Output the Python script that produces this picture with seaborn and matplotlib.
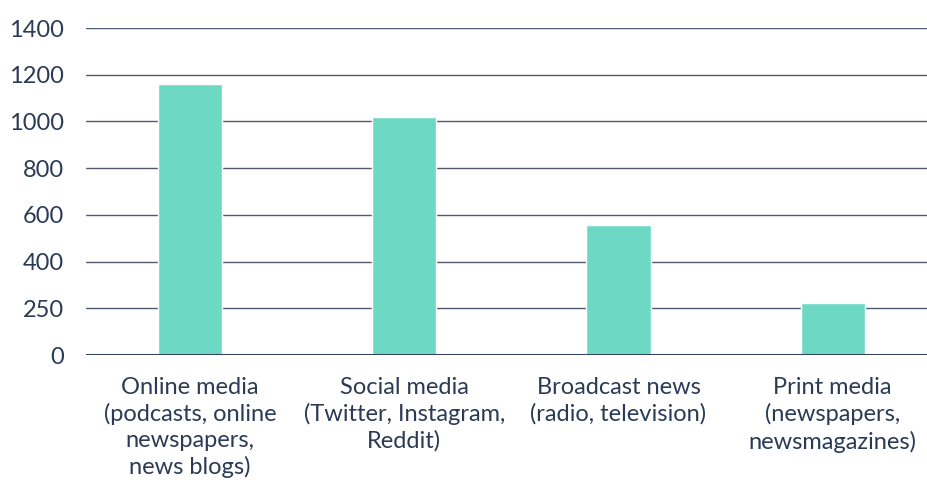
import matplotlib
matplotlib.use("Agg")
import matplotlib.pyplot as plt
import seaborn as sns
import pandas as pd

categories = [
    "Online media\n(podcasts, online\nnewspapers,\nnews blogs)",
    "Social media\n(Twitter, Instagram,\nReddit)",
    "Broadcast news\n(radio, television)",
    "Print media\n(newspapers,\nnewsmagazines)",
]
counts = [1160, 1020, 555, 222]
y_ticks = [0, 200, 400, 600, 800, 1000, 1200, 1400]
y_tick_labels = ["0", "250", "400", "600", "800", "1000", "1200", "1400"]

sns.set_theme(style="white")
plt.rcParams["font.family"] = ["Lato", "DejaVu Sans"]

text_color = "#2b3a55"
grid_color = "#3c4863"
bar_color = "#6dd9c5"

df = pd.DataFrame({"category": categories, "count": counts})

fig = plt.figure(figsize=(9.27, 4.83), dpi=100)
ax = fig.add_axes([0.0928, 0.265, 0.9072, 0.677])

sns.barplot(data=df, x="category", y="count", color=bar_color,
            width=0.3, saturation=1, ax=ax, zorder=3)

ax.set_xlim(-0.486, 3.44)
ax.set_ylim(0, 1400)
ax.set_yticks(y_ticks)
ax.set_yticklabels(y_tick_labels)
for y in y_ticks[1:]:
    ax.axhline(y, color=grid_color, lw=1.0, alpha=0.9, zorder=1)
ax.axhline(0, color="#34415c", lw=2.2, zorder=4)

for s in ax.spines.values():
    s.set_visible(False)
ax.tick_params(axis="y", length=0, pad=16, labelsize=17, labelcolor=text_color)
ax.tick_params(axis="x", length=0, pad=16, labelsize=17, labelcolor=text_color)
for lbl in ax.get_xticklabels():
    lbl.set_linespacing(1.28)
ax.set_xlabel("")
ax.set_ylabel("")

fig.savefig("out.png", dpi=100)
